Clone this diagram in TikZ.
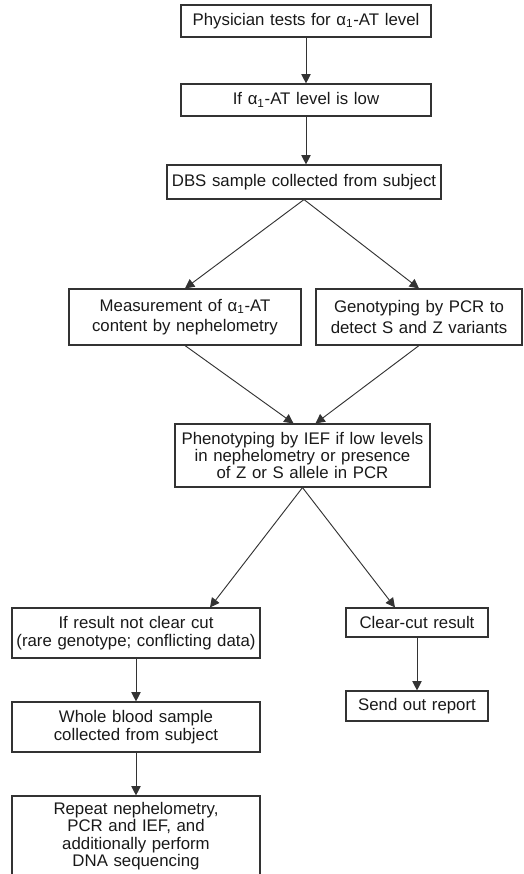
\documentclass[tikz,border=0pt]{standalone}
\usepackage{fontspec}
\setmainfont{Liberation Sans}
\usetikzlibrary{calc, positioning, arrows.meta}

\begin{document}
\begin{tikzpicture}[x=0.75pt, y=-0.75pt, font=\fontsize{12.6}{13}\selectfont,
  box/.style={draw=black!80, line width=0.85pt, align=center, inner xsep=0pt, inner ysep=0pt, text=black!90},
  arr/.style={draw=black!80, line width=0.7pt, -{Triangle[length=7pt, width=7pt]}}]
\clip (0,0) rectangle (524,874);
\node[box, text width=187.5pt, minimum height=24pt] (phys) at (306,21) {Physician tests for α\textsubscript{1}-AT level};
\node[box, text width=187.5pt, minimum height=24pt] (low) at (306,100) {If α\textsubscript{1}-AT level is low};
\node[box, text width=205.5pt, minimum height=25.5pt] (dbs) at (304,182) {DBS sample collected from subject};
\node[box, text width=174pt, minimum height=42pt, font=\fontsize{12.6}{15.5}\selectfont] (meas) at (185,317) {Measurement of α\textsubscript{1}-AT\\content by nephelometry};
\node[box, text width=154.5pt, minimum height=42pt, font=\fontsize{12.6}{15.5}\selectfont] (geno) at (419,317) {Genotyping by PCR to\\detect S and Z variants};
\node[box, text width=191.25pt, minimum height=47.25pt] (pheno) at (302.5,455.5) {Phenotyping by IEF if low levels\\in nephelometry or presence\\of Z or S allele in PCR};
\node[box, text width=186pt, minimum height=37.5pt] (result) at (136,633) {If result not clear cut\\(rare genotype; conflicting data)};
\node[box, text width=106.5pt, minimum height=21.75pt] (clear) at (417,622.5) {Clear-cut result};
\node[box, text width=106.5pt, minimum height=22.5pt] (report) at (417,706) {Send out report};
\node[box, text width=186pt, minimum height=37.5pt] (whole) at (136,727) {Whole blood sample\\collected from subject};
\node[box, text width=186pt, minimum height=60pt] (redo) at (136,836) {Repeat nephelometry,\\PCR and IEF, and\\additionally perform\\DNA sequencing};
\draw[arr] (phys) -- (low);
\draw[arr] (low.south) -- (low.south |- dbs.north);
\draw[arr] (dbs.south) -- (meas.north);
\draw[arr] (dbs.south) -- (geno.north);
\draw[arr] (meas.south) -- ($(pheno.north)+(-9,0)$);
\draw[arr] (geno.south) -- ($(pheno.north)+(13,0)$);
\draw[arr] (pheno.south) -- ($(result.north)+(74,0)$);
\draw[arr] (pheno.south) -- ($(clear.north)+(-22,0)$);
\draw[arr] (result) -- (whole);
\draw[arr] (whole) -- (redo);
\draw[arr] (clear) -- (report);
\end{tikzpicture}
\end{document}
